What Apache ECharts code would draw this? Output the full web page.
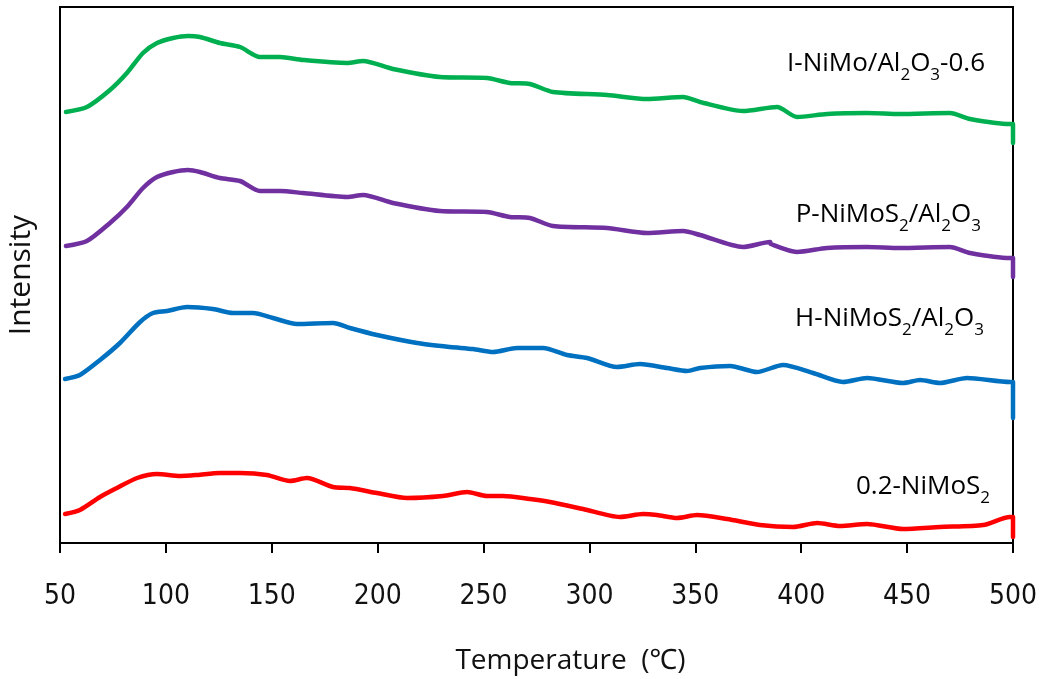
<!DOCTYPE html>
<html>
<head>
<meta charset="utf-8">
<script src="https://cdn.jsdelivr.net/npm/echarts@6/dist/echarts.min.js"></script>
<style>
  html, body { margin: 0; padding: 0; background: #fff; }
  #chart { width: 1047px; height: 679px; }
</style>
</head>
<body>
<div id="chart"></div>
<script>
// Temperature ticks (°C)
const xTicks = [50, 100, 150, 200, 250, 300, 350, 400, 450, 500];

// I-NiMo/Al2O3-0.6 (offset intensity, a.u.)
const greenT = [52.8, 62.7, 73.6, 81.6, 89.2, 95.8, 103.4, 110.4, 116.1, 125.5, 135.0, 144.4, 153.9, 164.7, 185.5, 193.1, 207.2, 229.4, 251.6, 262.5, 271.9, 282.8, 308.3, 327.2, 344.2, 352.2, 372.5, 388.6, 398.0, 412.2, 431.1, 446.6, 470.2, 479.7, 498.6, 500, 500];
const greenV = [431, 436, 453, 470, 490, 500, 505, 507, 506, 500, 496, 486, 486, 483, 480, 482, 474, 466, 465, 460, 459, 451, 448, 444, 446, 441, 432, 436, 426, 429, 430, 429, 430, 424, 419, 419, 400];

// P-NiMoS2/Al2O3
const purpleT = [52.8, 62.7, 73.6, 81.6, 89.2, 95.8, 103.4, 110.4, 116.1, 125.5, 135.0, 144.4, 153.9, 164.7, 185.5, 193.1, 207.2, 229.4, 251.6, 262.5, 271.9, 282.8, 308.3, 327.2, 344.2, 352.2, 372.5, 385.3, 385.6, 398.0, 412.2, 431.1, 446.6, 470.2, 479.7, 498.6, 500, 500];
const purpleV = [297, 302, 320, 336, 355, 366, 371, 373, 371, 365, 362, 352, 352, 350, 346, 348, 340, 332, 331, 326, 325, 317, 315, 310, 312, 308, 296, 301, 299, 291, 295, 296, 295, 296, 290, 285, 285, 266];

// H-NiMoS2/Al2O3
const blueT = [52.4, 59.4, 68.9, 78.3, 87.8, 93.9, 100.5, 110.0, 122.2, 131.7, 141.1, 150.6, 161.9, 178.9, 186.9, 199.7, 218.6, 234.2, 245.0, 254.5, 265.8, 278.1, 289.4, 298.9, 313.0, 323.9, 336.6, 346.1, 352.2, 366.4, 379.1, 391.4, 405.6, 419.7, 431.1, 448.1, 456.1, 465.5, 478.3, 498.6, 500, 500];
const blueV = [164, 168, 183, 200, 221, 230, 232, 236, 234, 230, 230, 225, 219, 220, 215, 208, 200, 196, 194, 191, 195, 195, 188, 185, 176, 179, 175, 172, 175, 177, 171, 178, 170, 161, 165, 160, 163, 160, 165, 161, 161, 125];

// 0.2-NiMoS2
const redT = [52.4, 59.4, 68.9, 76.9, 86.4, 95.8, 106.7, 114.7, 125.5, 135.0, 147.7, 158.6, 166.6, 178.9, 186.9, 199.7, 213.8, 230.8, 242.2, 251.6, 259.2, 271.9, 281.4, 297.0, 314.4, 325.3, 331.9, 341.4, 350.8, 365.0, 380.5, 396.1, 407.5, 418.3, 431.1, 448.1, 465.5, 485.9, 498.6, 500, 500];
const redV = [29, 33, 46, 55, 65, 69, 67, 68, 70, 70, 68, 62, 65, 56, 55, 50, 45, 47, 51, 47, 47, 44, 41, 34, 26, 29, 28, 25, 28, 24, 18, 16, 20, 17, 19, 14, 16, 18, 26, 26, 6];

const pair = (t, v) => t.map((x, i) => [x, v[i]]);

const labelFont = '"Open Sans", "Noto Sans", sans-serif';
const rich = {
  n: { fontSize: 26, fontFamily: labelFont, color: '#111', lineHeight: 32, verticalAlign: 'bottom' },
  s: { fontSize: 17, fontFamily: labelFont, color: '#111', lineHeight: 32, verticalAlign: 'bottom', padding: [0, 0, -7, 0] }
};

function curveLabel(text, right, midY) {
  return {
    type: 'text',
    right: right,
    top: midY - 16,
    style: { text: text, rich: rich, align: 'right' }
  };
}

function line(name, data, color) {
  return {
    name: name,
    type: 'line',
    data: data,
    smooth: 0.25,
    showSymbol: false,
    lineStyle: { color: color, width: 4.5, cap: 'round', join: 'round' },
    itemStyle: { color: color },
    z: 3
  };
}

const chart = echarts.init(document.getElementById('chart'));
chart.setOption({
  animation: false,
  backgroundColor: '#fff',
  grid: {
    left: 60, right: 34, top: 7, bottom: 136,
    outerBoundsMode: 'none',
    containLabel: false,
    show: true, borderColor: '#000', borderWidth: 2
  },
  xAxis: {
    type: 'value',
    min: xTicks[0],
    max: xTicks[xTicks.length - 1],
    interval: 50,
    name: 'Temperature  (\u2103)',
    nameLocation: 'middle',
    nameGap: 104,
    nameTextStyle: { fontSize: 28, fontFamily: labelFont, color: '#111', padding: [0, 0, 0, 68] },
    axisLine: { lineStyle: { color: '#000', width: 2 } },
    axisTick: { inside: false, length: 10, lineStyle: { color: '#000', width: 2 } },
    axisLabel: { margin: 40, fontSize: 28, fontFamily: '"Liberation Sans Narrow", "DejaVu Sans Condensed", sans-serif', color: '#111' },
    splitLine: { show: false }
  },
  yAxis: {
    type: 'value',
    min: 0,
    max: 536,
    name: 'Intensity',
    nameLocation: 'middle',
    nameGap: 24,
    nameTextStyle: { fontSize: 30, fontFamily: labelFont, color: '#111' },
    axisLine: { show: true, lineStyle: { color: '#000', width: 2 } },
    axisTick: { show: false },
    axisLabel: { show: false },
    splitLine: { show: false }
  },
  series: [
    line('I-NiMo/Al2O3-0.6', pair(greenT, greenV), '#00B050'),
    line('P-NiMoS2/Al2O3', pair(purpleT, purpleV), '#7030A0'),
    line('H-NiMoS2/Al2O3', pair(blueT, blueV), '#0070C0'),
    line('0.2-NiMoS2', pair(redT, redV), '#FF0000')
  ],
  graphic: [
    curveLabel('{n|I-NiMo/Al}{s|2}{n|O}{s|3}{n|-0.6}', 62, 67),
    curveLabel('{n|P-NiMoS}{s|2}{n|/Al}{s|2}{n|O}{s|3}', 66, 218),
    curveLabel('{n|H-NiMoS}{s|2}{n|/Al}{s|2}{n|O}{s|3}', 63, 322),
    curveLabel('{n|0.2-NiMoS}{s|2}', 57, 490)
  ]
});
</script>
</body>
</html>
